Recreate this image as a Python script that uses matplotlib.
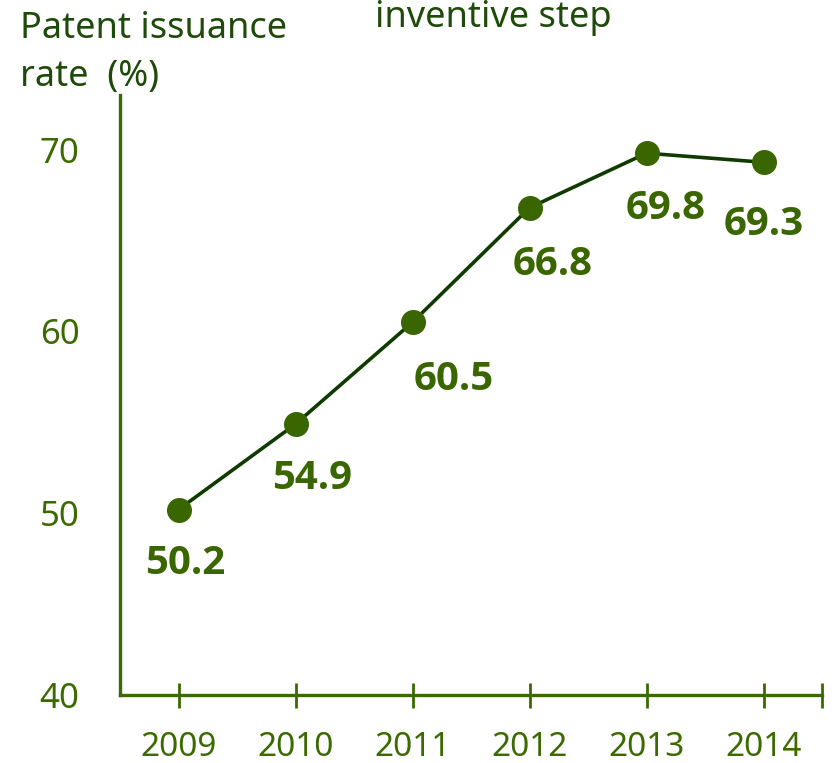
import numpy as np
import matplotlib
matplotlib.use("Agg")
import matplotlib.pyplot as plt
from matplotlib import font_manager

years = ["2009", "2010", "2011", "2012", "2013", "2014"]
rates = [50.2, 54.9, 60.5, 66.8, 69.8, 69.3]
value_labels = ["50.2", "54.9", "60.5", "66.8", "69.8", "69.3"]
y_ticks = [40, 50, 60, 70]

# label offsets from each point, in pixels (x right, y up)
label_offsets_px = [(7, -54), (17, -54), (41, -57), (23, -57), (19, -55), (0, -62)]

AXIS_GREEN = "#3a6a00"
LINE_DARK = "#0f3b00"
MARKER_GREEN = "#3a6600"
TITLE_GREEN = "#1e4a0a"

plt.rcParams['font.family'] = ['Noto Sans', 'DejaVu Sans']

# pick a family that really has a bold face for the value labels
bold_family = 'DejaVu Sans'
for fam in ['Noto Sans', 'Open Sans', 'Lato', 'Roboto', 'Liberation Sans']:
    path = font_manager.findfont(font_manager.FontProperties(family=fam, weight='bold'),
                                 fallback_to_default=False)
    if 'bold' in path.lower():
        bold_family = fam
        break

fig = plt.figure(figsize=(8.36, 7.63), dpi=100)
ax = fig.add_axes([120 / 836, 1 - 695 / 763, (822 - 120) / 836, 600 / 763])

x = np.arange(len(years))
ax.plot(x, rates, color=LINE_DARK, linewidth=2.6, zorder=2)
ax.plot(x, rates, linestyle='none', marker='o', markersize=17,
        markerfacecolor=MARKER_GREEN, markeredgecolor=MARKER_GREEN, zorder=3)

for xi, yi, lab, (dx, dy) in zip(x, rates, value_labels, label_offsets_px):
    ax.annotate(lab, (xi, yi), xytext=(dx * 0.72, dy * 0.72), textcoords='offset points',
                ha='center', va='center', fontsize=29, fontweight='bold',
                family=bold_family, color=MARKER_GREEN)

ax.set_xlim(-0.5, 5.5)
ax.set_ylim(40, 73)

ax.set_xticks(x)
ax.set_xticklabels(years)
ax.set_xticks([5.5], minor=True)
ax.tick_params(axis='x', which='both', direction='inout', length=18, width=2,
               color=AXIS_GREEN, pad=17, labelsize=24, labelcolor=AXIS_GREEN)

ax.set_yticks(y_ticks)
ax.set_yticklabels([str(v) for v in y_ticks])
ax.tick_params(axis='y', length=0, pad=29, labelsize=25, labelcolor=AXIS_GREEN)

for side in ['top', 'right']:
    ax.spines[side].set_visible(False)
for side in ['left', 'bottom']:
    ax.spines[side].set_color(AXIS_GREEN)
    ax.spines[side].set_linewidth(2.4)

fig.text(20 / 836, 1 - 29 / 763, "Patent issuance", fontsize=26, color=TITLE_GREEN,
         ha='left', va='center')
fig.text(20 / 836, 1 - 77 / 763, "rate  (%)", fontsize=26, color=TITLE_GREEN,
         ha='left', va='center')
fig.text(375 / 836, 1 - 27 / 763, "inventive step", fontsize=26, color=TITLE_GREEN,
         ha='left', va='baseline')

fig.savefig("out.png", dpi=100)
